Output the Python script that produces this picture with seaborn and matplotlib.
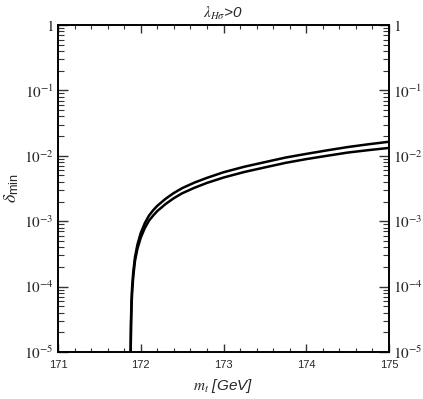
import matplotlib
matplotlib.use("Agg")
import matplotlib.pyplot as plt
import seaborn as sns
import numpy as np
import pandas as pd
from matplotlib.ticker import LogLocator, MultipleLocator, FixedLocator, NullFormatter

# Data (estimated)
mt_upper = [171.876, 171.878, 171.882, 171.888, 171.895, 171.91, 171.93, 171.96, 172.0,
            172.05, 172.1, 172.15, 172.2, 172.3, 172.4, 172.5, 172.65, 172.8, 173.0,
            173.25, 173.5, 173.75, 174.0, 174.25, 174.5, 174.75, 175.0]
delta_upper = [5e-6, 1.2e-5, 3.0e-5, 6.0e-5, 9.5e-5, 1.7e-4, 2.8e-4, 4.4e-4, 6.6e-4,
               9.4e-4, 1.22e-3, 1.47e-3, 1.72e-3, 2.2e-3, 2.7e-3, 3.2e-3, 3.9e-3, 4.6e-3, 5.6e-3,
               6.8e-3, 8.0e-3, 9.4e-3, 1.07e-2, 1.21e-2, 1.36e-2, 1.50e-2, 1.64e-2]
mt_lower = [171.877, 171.879, 171.883, 171.889, 171.896, 171.91, 171.93, 171.96, 172.0,
            172.05, 172.1, 172.15, 172.2, 172.3, 172.4, 172.5, 172.65, 172.8, 173.0,
            173.25, 173.5, 173.75, 174.0, 174.25, 174.5, 174.75, 175.0]
delta_lower = [5e-6, 1.1e-5, 2.6e-5, 5.1e-5, 8.2e-5, 1.45e-4, 2.45e-4, 3.8e-4, 5.6e-4,
               7.9e-4, 1.02e-3, 1.22e-3, 1.43e-3, 1.83e-3, 2.25e-3, 2.67e-3, 3.25e-3, 3.85e-3, 4.65e-3,
               5.65e-3, 6.65e-3, 7.8e-3, 8.9e-3, 1.0e-2, 1.12e-2, 1.22e-2, 1.32e-2]

x_ticks = [171, 172, 173, 174, 175]
y_ticks = [1e-5, 1e-4, 1e-3, 1e-2, 1e-1, 1]
y_ticklabels = [r'$10^{-5}$', r'$10^{-4}$', r'$10^{-3}$', r'$10^{-2}$', r'$10^{-1}$', r'$1$']

sns.set_style("ticks")
plt.rcParams['font.family'] = ['Liberation Sans', 'DejaVu Sans']
plt.rcParams['mathtext.fontset'] = 'stix'

fig = plt.figure(figsize=(4.23, 3.99), dpi=100)
ax = fig.add_axes([58/423, 47/399, 331/423, 327/399])

df_u = pd.DataFrame({'mt': mt_upper, 'delta': delta_upper})
df_l = pd.DataFrame({'mt': mt_lower, 'delta': delta_lower})
sns.lineplot(data=df_u, x='mt', y='delta', ax=ax, color='black', lw=1.8, sort=False)
sns.lineplot(data=df_l, x='mt', y='delta', ax=ax, color='black', lw=1.8, sort=False)

ax.set_yscale('log')
ax.set_xlim(171, 175)
ax.set_ylim(1e-5, 1)

ax.set_xticks(x_ticks)
ax.set_xticklabels([str(t) for t in x_ticks], fontsize=8, family='Liberation Sans')
ax.xaxis.set_minor_locator(MultipleLocator(0.2))
ax.yaxis.set_major_locator(FixedLocator(y_ticks))
ax.set_yticklabels(y_ticklabels, fontsize=11)
ax.yaxis.set_minor_locator(LogLocator(base=10, subs=np.arange(2, 10), numticks=20))
ax.yaxis.set_minor_formatter(NullFormatter())

ax.tick_params(axis='both', which='both', direction='in', top=True, right=True,
               labelright=True, color='#333333')
ax.tick_params(axis='y', which='major', length=7, width=1.0, pad=3)
ax.tick_params(axis='y', which='minor', length=4, width=0.8)
ax.tick_params(axis='x', which='major', length=6, width=1.0, pad=6)
ax.tick_params(axis='x', which='minor', length=3, width=0.8)

for s in ax.spines.values():
    s.set_linewidth(1.4)
    s.set_color('black')

ax.set_xlabel(r'$m_t$ [GeV]', fontsize=11, style='italic', labelpad=5)
ax.set_ylabel(r'$\delta_{\mathregular{min}}$', fontsize=13, labelpad=2)
ax.set_title(r'$\lambda_{H\sigma}$>0', fontsize=11, style='italic', pad=5)

fig.savefig('out.png', dpi=100)
